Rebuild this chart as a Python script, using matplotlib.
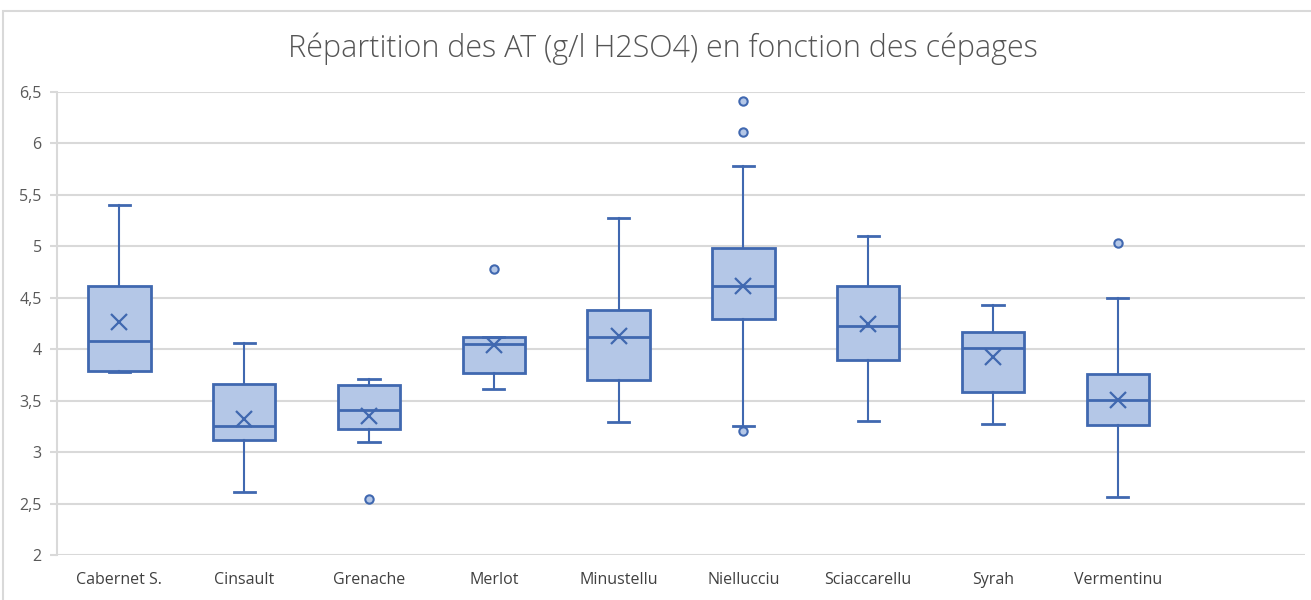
import matplotlib
matplotlib.use("Agg")
import matplotlib.pyplot as plt
from matplotlib.patches import Rectangle

cepages = ["Cabernet S.", "Cinsault", "Grenache", "Merlot", "Minustellu",
           "Niellucciu", "Sciaccarellu", "Syrah", "Vermentinu"]
whislo = [3.78, 2.61, 3.10, 3.61, 3.29, 3.25, 3.30, 3.27, 2.56]
q1 = [3.79, 3.12, 3.22, 3.77, 3.70, 4.29, 3.90, 3.58, 3.26]
med = [4.08, 3.25, 3.41, 4.05, 4.12, 4.61, 4.23, 4.01, 3.51]
q3 = [4.61, 3.66, 3.65, 4.12, 4.38, 4.98, 4.61, 4.17, 3.76]
whishi = [5.40, 4.06, 3.71, 4.12, 5.28, 5.78, 5.10, 4.43, 4.50]
moy = [4.26, 3.32, 3.35, 4.04, 4.13, 4.61, 4.25, 3.92, 3.51]
aberrants = [[], [], [2.54], [4.78], [], [6.41, 6.11, 3.21], [], [], [5.03]]

edge = "#4068B0"
fill = "#B4C7E7"

stats = []
for i, nom in enumerate(cepages):
    stats.append(dict(label=nom, whislo=whislo[i], q1=q1[i], med=med[i], q3=q3[i],
                      whishi=whishi[i], mean=moy[i], fliers=aberrants[i]))

fig = plt.figure(figsize=(13.11, 6), dpi=100)
ax = fig.add_axes([57 / 1311, 1 - 555 / 600, (1305 - 57) / 1311, (555 - 92) / 600])

pos = list(range(1, len(cepages) + 1))
ax.bxp(stats, positions=pos, widths=0.5, capwidths=0.17, patch_artist=True,
       showmeans=True, showfliers=True,
       boxprops=dict(facecolor=fill, edgecolor=edge, linewidth=2),
       medianprops=dict(color=edge, linewidth=2),
       whiskerprops=dict(color=edge, linewidth=1.5),
       capprops=dict(color=edge, linewidth=2),
       meanprops=dict(marker="x", markeredgecolor=edge, markersize=11, markeredgewidth=1.6),
       flierprops=dict(marker="o", markerfacecolor=fill, markeredgecolor=edge,
                       markersize=6, markeredgewidth=1.5),
       zorder=3)

ax.set_xlim(0.5, len(cepages) + 1.5)
ax.set_ylim(2, 6.5)
ax.set_yticks([2, 2.5, 3, 3.5, 4, 4.5, 5, 5.5, 6, 6.5])
ax.set_yticklabels(["2", "2,5", "3", "3,5", "4", "4,5", "5", "5,5", "6", "6,5"])
ax.set_xticks(pos)
ax.set_xticklabels(cepages)
ax.grid(axis="y", color="#D9D9D9", linewidth=1.5, zorder=0)
ax.set_axisbelow(True)
for s in ["top", "right", "bottom"]:
    ax.spines[s].set_visible(False)
ax.spines["left"].set_color("#D9D9D9")
ax.spines["left"].set_linewidth(1.5)
ax.tick_params(axis="y", colors="#D9D9D9", length=5, width=1.5, labelcolor="#595959",
               labelsize=11.5, pad=6)
ax.tick_params(axis="x", length=0, labelcolor="#404040", labelsize=11.5, pad=12)
for lab in ax.get_xticklabels() + ax.get_yticklabels():
    lab.set_family("Open Sans")

fig.text(0.506, 0.918, "Répartition des AT (g/l H2SO4) en fonction des cépages",
         ha="center", va="center", fontsize=22, color="#555555",
         family="Open Sans", fontweight="light")

fig.patches.append(Rectangle((3 / 1311, -0.1), 2, 1 - 11 / 600 + 0.1, transform=fig.transFigure,
                             fill=False, edgecolor="#D9D9D9", linewidth=1.5))

fig.savefig("out.png", dpi=100, facecolor="white")
